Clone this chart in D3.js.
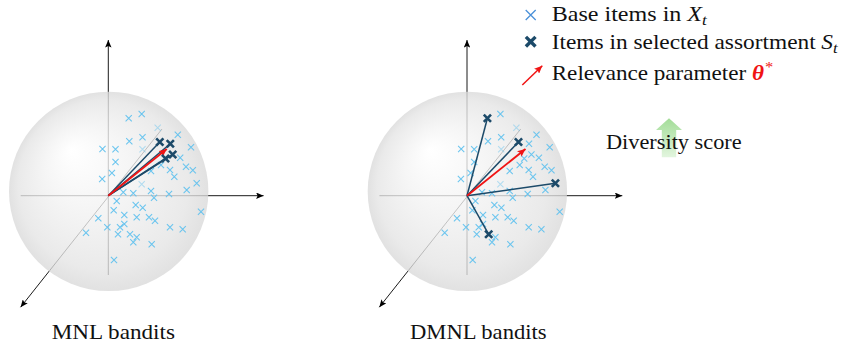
<!DOCTYPE html>
<html>
<head>
<meta charset="utf-8">
<script src="https://cdn.jsdelivr.net/npm/d3@7"></script>
<style>
  body { margin: 0; background: #fff; }
  text { font-family: "Liberation Serif", "Times New Roman", serif; fill: #111; }
</style>
</head>
<body>
<svg id="fig" width="845" height="348"></svg>
<script>
// Item feature vectors projected onto the drawing plane (ball radius = 1, y up)
const baseItems = [
  [0.334, 0.817], [0.204, 0.774], [0.494, 0.680], [0.695, 0.610], [0.342, 0.584],
  [0.210, 0.545], [0.827, 0.484], [-0.058, 0.467], [0.072, 0.464], [0.342, 0.465],
  [0.719, 0.380], [0.072, 0.337], [0.777, 0.290], [0.845, 0.255], [0.036, 0.227],
  [0.617, 0.257], [0.660, 0.190], [-0.061, 0.167], [0.884, 0.124], [0.334, 0.114],
  [0.784, 0.057], [0.427, 0.047], [0.150, 0.034], [0.250, 0.024], [0.607, 0.017],
  [0.457, -0.020], [0.084, -0.053], [0.274, -0.093], [0.344, -0.120], [0.927, -0.160],
  [0.054, -0.146], [0.160, -0.193], [0.284, -0.216], [0.407, -0.216], [0.467, -0.250],
  [-0.100, -0.226], [-0.010, -0.316], [0.117, -0.316], [0.160, -0.283], [0.617, -0.316],
  [0.744, -0.336], [-0.223, -0.370], [0.097, -0.386], [0.217, -0.386], [0.284, -0.416],
  [0.250, -0.466], [0.434, -0.486], [0.057, -0.643], [0.515, 0.537], [0.620, 0.520],
  [0.644, 0.412], [0.572, 0.372], [0.527, 0.307], [0.427, 0.247]
];
// items lying behind the ball, drawn lighter
const faintItems = [2, 9, 19];
// assortments chosen by each policy (indices into baseItems)
const mnlSelected = [48, 49, 50, 51];
const dmnlSelected = [1, 48, 18, 43];
// relevance parameter theta*
const theta = [0.585, 0.467];
const panelTitles = ["MNL bandits", "DMNL bandits"];
const legendLabels = ["Base items in", "Items in selected assortment", "Relevance parameter"];
const legendSymbols = [["X", "t"], ["S", "t"], ["\u03b8", "*"]];
const diversityLabel = "Diversity score";

const serif = "Liberation Serif";
const lightBlue = "#62c2ee";
const legendBlue = "#4a90d9";
const navy = "#1c4a69";
const red = "#f01414";

const svg = d3.select("#fig");
const defs = svg.append("defs");

// ball shading: highlight towards the upper left
const ball = defs.append("radialGradient").attr("id", "ball")
  .attr("cx", "50%").attr("cy", "50%").attr("r", "50%")
  .attr("fx", "31%").attr("fy", "29%");
[[0, "#ffffff"], [0.4, "#f3f3f3"], [0.85, "#e4e4e4"], [1, "#d9d9d9"]]
  .forEach(([o, c]) => ball.append("stop").attr("offset", o).attr("stop-color", c));

const green = defs.append("linearGradient").attr("id", "upGreen")
  .attr("x1", 0).attr("y1", 0).attr("x2", 0).attr("y2", 1);
green.append("stop").attr("offset", 0).attr("stop-color", "#a3dd98");
green.append("stop").attr("offset", 1).attr("stop-color", "#e2f5de");

function headMarker(id, color, len, half) {
  defs.append("marker").attr("id", id)
    .attr("markerUnits", "userSpaceOnUse")
    .attr("viewBox", `${-len} ${-half} ${len + 1} ${half * 2}`)
    .attr("refX", 0).attr("refY", 0)
    .attr("markerWidth", len + 1).attr("markerHeight", half * 2)
    .attr("orient", "auto")
    .append("path")
    .attr("d", `M0,0 L${-len},${-half} L${-len * 0.8},0 L${-len},${half} Z`)
    .attr("fill", color);
}
headMarker("axisHead", "#000", 7.5, 3.2);
headMarker("redHead", red, 8, 3.6);

function cross(g, x, y, r, color, width, opacity) {
  g.append("path")
    .attr("d", `M${x - r},${y - r}L${x + r},${y + r}M${x - r},${y + r}L${x + r},${y - r}`)
    .attr("stroke", color).attr("stroke-width", width)
    .attr("stroke-opacity", opacity).attr("fill", "none");
}

// a run of text parts laid out left to right, then stretched to the given width
function label(x0, y0, width, parts) {
  const g = svg.append("g");
  let cx = 0;
  parts.forEach(p => {
    const t = g.append("text")
      .style("font-family", serif)
      .attr("x", cx).attr("y", p.dy || 0)
      .attr("font-size", p.size || 21)
      .attr("font-style", p.italic ? "italic" : "normal")
      .attr("font-weight", p.bold ? "bold" : "normal")
      .style("fill", p.fill || "#111")
      .text(p.text);
    cx += t.node().getComputedTextLength() + (p.gap || 0);
  });
  g.attr("transform", `translate(${x0},${y0}) scale(${width / cx},1)`);
  return g;
}

const origins = [[108.3, 195.7], [467, 195.7]];
const selections = [mnlSelected, dmnlSelected];
const titleX = [51.7, 410];
const titleW = [123.3, 136.7];

origins.forEach(([ox, oy], p) => {
  const x = d3.scaleLinear().domain([-1, 1]).range([ox - 100, ox + 100]);
  const y = d3.scaleLinear().domain([-1, 1]).range([oy + 100, oy - 100]);
  const g = svg.append("g");

  // coordinate axes (seen through the translucent ball)
  const axes = [
    [[0, -0.793], [0, 1.557]],
    [[-0.876, 0], [1.553, 0]],
    [[0.537, 0.667], [-0.877, -1.115]]
  ];
  axes.forEach(([a, b]) => {
    g.append("line")
      .attr("x1", x(a[0])).attr("y1", y(a[1]))
      .attr("x2", x(b[0])).attr("y2", y(b[1]))
      .attr("stroke", "#000").attr("stroke-width", 0.9)
      .attr("marker-end", "url(#axisHead)");
  });

  // the unit ball
  g.append("circle")
    .attr("cx", x(0.004)).attr("cy", y(0.043))
    .attr("r", x(0.997) - x(0))
    .attr("fill", "url(#ball)").attr("fill-opacity", 0.78);

  // base items
  baseItems.forEach((d, i) => {
    cross(g, x(d[0]), y(d[1]), 3.1, lightBlue, 1.05, faintItems.includes(i) ? 0.45 : 0.95);
  });

  // vectors to the selected items
  const sel = selections[p].map(i => baseItems[i]);
  sel.forEach(d => {
    g.append("line")
      .attr("x1", x(0)).attr("y1", y(0))
      .attr("x2", x(d[0])).attr("y2", y(d[1]))
      .attr("stroke", navy).attr("stroke-width", 1.5);
  });

  // relevance parameter
  g.append("line")
    .attr("x1", x(0)).attr("y1", y(0))
    .attr("x2", x(theta[0])).attr("y2", y(theta[1]))
    .attr("stroke", red).attr("stroke-width", 1.9)
    .attr("marker-end", "url(#redHead)");

  sel.forEach(d => cross(g, x(d[0]), y(d[1]), 3.6, navy, 2.6, 1));

  // panel title
  label(titleX[p], 339.3, titleW[p], [{ text: panelTitles[p] }]);
});

// legend
const lg = svg.append("g");
cross(lg, 530.7, 15, 5, legendBlue, 1.3, 1);
cross(lg, 530.7, 41.7, 4.8, navy, 3.4, 1);
lg.append("line")
  .attr("x1", 522.3).attr("y1", 85).attr("x2", 542.3).attr("y2", 65.7)
  .attr("stroke", red).attr("stroke-width", 1.5)
  .attr("marker-end", "url(#redHead)");

const legendY = [20.7, 48.6, 79.5];
const legendW = [155, 286, 221.6];
legendLabels.forEach((txt, i) => {
  const [sym, sub] = legendSymbols[i];
  const isTheta = i === 2;
  label(551.7, legendY[i], legendW[i], [
    { text: txt, gap: 5 },
    { text: sym, italic: true, bold: isTheta, fill: isTheta ? red : "#111", gap: isTheta ? 1 : 0 },
    { text: sub, size: 15, italic: !isTheta, fill: isTheta ? red : "#111", dy: isTheta ? -8 : 4.5 }
  ]);
});

// diversity score: upward arrow behind the label
const arrowPts = [[669, 118.3], [682, 130], [676.2, 130], [676.2, 157.3], [661.8, 157.3], [661.8, 130], [656, 130]];
svg.append("path")
  .attr("d", d3.line()(arrowPts) + "Z")
  .attr("fill", "url(#upGreen)");
label(606, 149.3, 135.7, [{ text: diversityLabel }]);
</script>
</body>
</html>
